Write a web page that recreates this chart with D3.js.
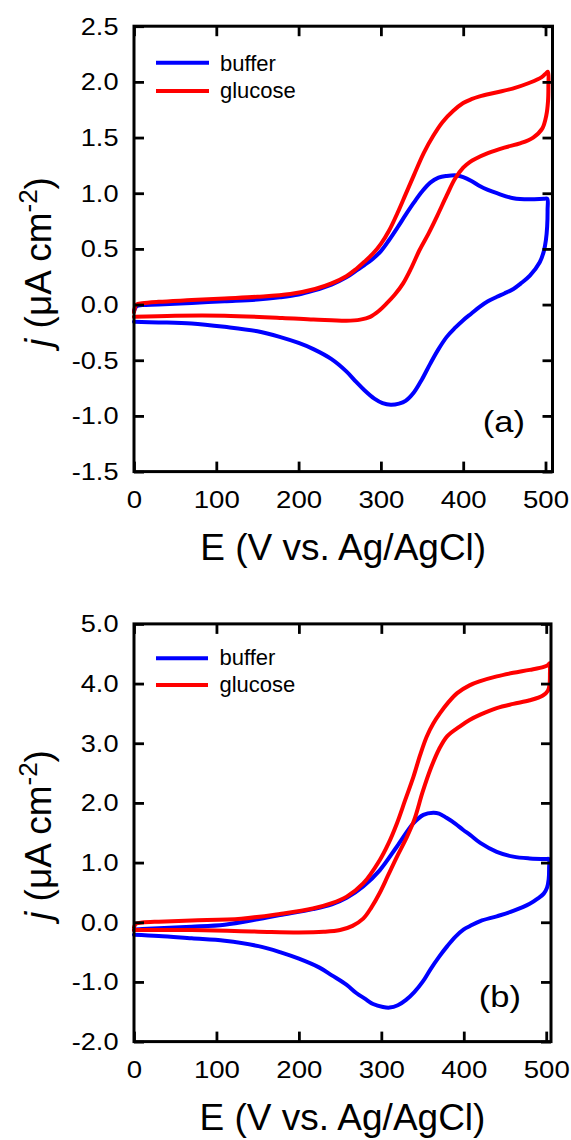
<!DOCTYPE html>
<html><head><meta charset="utf-8">
<script src="https://cdn.jsdelivr.net/npm/d3@7"></script>
<style>html,body{margin:0;padding:0;background:#fff;} svg{display:block;font-family:"Liberation Sans",Arial,sans-serif;}</style>
</head><body><svg id="c" width="571" height="1140"></svg>
<script>
// ---- data ----
const xTicks = [0, 100, 200, 300, 400, 500];
const xTickLabels = ["0", "100", "200", "300", "400", "500"];
const yTicksA = [-1.5, -1.0, -0.5, 0, 0.5, 1.0, 1.5, 2.0, 2.5];
const yTickLabelsA = ["-1.5", "-1.0", "-0.5", "0.0", "0.5", "1.0", "1.5", "2.0", "2.5"];
const yTicksB = [-2, -1, 0, 1, 2, 3, 4, 5];
const yTickLabelsB = ["-2.0", "-1.0", "0.0", "1.0", "2.0", "3.0", "4.0", "5.0"];
const seriesNames = ["buffer", "glucose"];
const panelLabels = ["(a)", "(b)"];
const xTitle = "E (V vs. Ag/AgCl)";

// panel (a) buffer: [E, j]
const bufferA = [[0,-0.06],[1,-0.04],[3,-0.015],[10,-0.005],[30,0.0],[70,0.015],[110,0.03],[150,0.045],[177,0.065],[200,0.09],[218,0.125],[240,0.18],[258,0.245],[270,0.305],[280,0.355],[290,0.41],[300,0.48],[310,0.58],[320,0.69],[330,0.805],[340,0.915],[350,1.015],[360,1.095],[370,1.14],[380,1.155],[392,1.16],[400,1.145],[410,1.11],[420,1.065],[430,1.03],[441,1.0],[461,0.955],[481,0.945],[498,0.95],[502,0.95],[502.5,0.85],[502,0.70],[500.5,0.58],[498,0.48],[493,0.38],[481,0.26],[470,0.19],[461,0.14],[450,0.10],[441,0.07],[430,0.03],[420,-0.02],[410,-0.08],[400,-0.14],[390,-0.21],[380,-0.29],[370,-0.40],[360,-0.53],[350,-0.67],[340,-0.79],[330,-0.865],[322,-0.89],[312,-0.9],[302,-0.885],[292,-0.845],[280,-0.77],[270,-0.695],[258,-0.60],[240,-0.49],[218,-0.40],[200,-0.345],[177,-0.29],[150,-0.24],[110,-0.20],[70,-0.17],[30,-0.16],[0,-0.155]];
// panel (a) glucose
const glucoseA = [[0,-0.07],[1,-0.03],[3,0.0],[10,0.012],[30,0.025],[70,0.04],[110,0.055],[150,0.07],[190,0.095],[220,0.14],[240,0.19],[258,0.255],[270,0.32],[280,0.385],[290,0.455],[300,0.545],[310,0.665],[320,0.82],[330,0.99],[340,1.16],[352,1.36],[364,1.52],[375,1.64],[388,1.74],[400,1.81],[410,1.845],[420,1.87],[440,1.905],[460,1.94],[480,1.99],[495,2.04],[501,2.08],[503,2.09],[503.5,1.95],[503,1.82],[501,1.70],[496,1.58],[485,1.50],[470,1.45],[450,1.41],[430,1.36],[415,1.31],[408,1.28],[400,1.23],[390,1.13],[380,0.98],[368,0.79],[358,0.64],[347,0.49],[337,0.33],[327,0.19],[317,0.09],[307,0.01],[297,-0.06],[287,-0.11],[275,-0.135],[258,-0.145],[240,-0.14],[218,-0.135],[180,-0.12],[110,-0.10],[50,-0.10],[0,-0.11]];
// panel (b) buffer
const bufferB = [[0,-0.13],[2,-0.12],[10,-0.115],[30,-0.10],[70,-0.075],[110,-0.04],[150,0.05],[177,0.12],[217,0.22],[240,0.30],[258,0.41],[278,0.60],[298,0.87],[319,1.27],[339,1.66],[351,1.80],[363,1.835],[370,1.82],[379,1.75],[390,1.65],[399,1.55],[408,1.46],[420,1.33],[440,1.18],[460,1.10],[480,1.07],[500,1.06],[503,1.06],[503.5,0.90],[503,0.72],[501,0.58],[497,0.48],[490,0.40],[480,0.31],[460,0.19],[440,0.10],[420,0.02],[408,-0.06],[400,-0.12],[390,-0.24],[380,-0.40],[370,-0.58],[360,-0.78],[350,-1.0],[340,-1.17],[330,-1.30],[320,-1.39],[310,-1.43],[302,-1.42],[290,-1.37],[280,-1.28],[270,-1.19],[258,-1.05],[240,-0.89],[225,-0.76],[200,-0.61],[177,-0.50],[151,-0.40],[110,-0.31],[70,-0.27],[30,-0.23],[0,-0.21]];
// panel (b) glucose
const glucoseB = [[0,-0.09],[1,-0.05],[3,-0.02],[10,-0.005],[30,0.01],[70,0.03],[130,0.06],[177,0.14],[217,0.23],[240,0.32],[258,0.43],[278,0.65],[298,1.04],[309,1.33],[319,1.66],[329,2.05],[339,2.44],[347,2.80],[355,3.11],[363,3.33],[371,3.50],[381,3.68],[392,3.84],[407,3.97],[420,4.04],[440,4.12],[460,4.18],[480,4.23],[497,4.28],[502,4.31],[504,4.34],[504.5,4.15],[504,3.98],[502,3.88],[496,3.80],[480,3.72],[460,3.66],[440,3.59],[420,3.48],[407,3.39],[395,3.28],[380,3.12],[370,2.90],[360,2.58],[350,2.18],[340,1.72],[330,1.40],[319,1.10],[308,0.78],[298,0.49],[288,0.25],[278,0.06],[265,-0.06],[250,-0.13],[230,-0.16],[200,-0.17],[151,-0.157],[70,-0.13],[0,-0.13]];

// ---- layout ----
const colors = ["#0000ff", "#ff0000"];
const panels = [
  {left:134, right:552.5, top:26.2, bottom:471.6, xMax:508.5, yDom:[-1.5,2.5], yT:yTicksA, yL:yTickLabelsA,
   series:[bufferA, glucoseA], label:panelLabels[0], labX:525, labY:432, ylabY:262,
   legLineY:[62.7,91], legTextY:[70.5,98], legX1:156, legX2:209, legTX:220},
  {left:134, right:551, top:623.9, bottom:1041.6, xMax:505.8, yDom:[-2,5], yT:yTicksB, yL:yTickLabelsB,
   series:[bufferB, glucoseB], label:panelLabels[1], labX:521, labY:1007, ylabY:835,
   legLineY:[658.3,685], legTextY:[665,691.7], legX1:156, legX2:208, legTX:219.5}
];

const svg = d3.select("#c");

panels.forEach(p => {
  const g = svg.append("g");
  const x = d3.scaleLinear().domain([0, p.xMax]).range([p.left, p.right]);
  const y = d3.scaleLinear().domain(p.yDom).range([p.bottom, p.top]);
  const line = d3.line().x(d => x(d[0])).y(d => y(d[1])).curve(d3.curveCatmullRom.alpha(0.5));

  p.series.forEach((s, i) => {
    g.append("path").datum(s).attr("d", line).attr("fill", "none")
      .attr("stroke", colors[i]).attr("stroke-width", 4)
      .attr("stroke-linejoin", "round").attr("stroke-linecap", "round");
  });

  const styleAxis = sel => {
    sel.attr("font-size", null).attr("font-family", null);
    sel.select(".domain").remove();
    sel.selectAll(".tick line").attr("stroke", "#000").attr("stroke-width", 2.8);
  };
  const tick = 10;
  // bottom
  const gb = g.append("g").attr("transform", `translate(0,${p.bottom})`)
    .call(d3.axisBottom(x).tickValues(xTicks).tickFormat(d => xTickLabels[xTicks.indexOf(d)]).tickSizeInner(-tick).tickSizeOuter(0));
  styleAxis(gb);
  gb.selectAll("text").attr("y", null).attr("dy", null).attr("fill", "#000")
    .attr("text-anchor", "middle").attr("transform", "translate(0,36.6) scale(1.2,1)")
    .style("font-size", "23px");
  // top
  const gt = g.append("g").attr("transform", `translate(0,${p.top})`)
    .call(d3.axisTop(x).tickValues(xTicks).tickFormat("").tickSizeInner(-tick).tickSizeOuter(0));
  styleAxis(gt);
  // left
  const gl = g.append("g").attr("transform", `translate(${p.left},0)`)
    .call(d3.axisLeft(y).tickValues(p.yT).tickFormat(d => p.yL[p.yT.indexOf(d)]).tickSizeInner(-tick).tickSizeOuter(0));
  styleAxis(gl);
  gl.selectAll("text").attr("x", null).attr("dy", "0.35em").attr("fill", "#000")
    .attr("text-anchor", "end").attr("transform", "translate(-15.5,0) scale(1.18,1)")
    .style("font-size", "23px");
  // right
  const gr = g.append("g").attr("transform", `translate(${p.right},0)`)
    .call(d3.axisRight(y).tickValues(p.yT).tickFormat("").tickSizeInner(-tick).tickSizeOuter(0));
  styleAxis(gr);

  // frame
  g.append("rect").attr("x", p.left).attr("y", p.top)
    .attr("width", p.right - p.left).attr("height", p.bottom - p.top)
    .attr("fill", "none").attr("stroke", "#000").attr("stroke-width", 3);

  // legend
  seriesNames.forEach((n, i) => {
    g.append("line").attr("x1", p.legX1).attr("x2", p.legX2)
      .attr("y1", p.legLineY[i]).attr("y2", p.legLineY[i])
      .attr("stroke", colors[i]).attr("stroke-width", 4);
    g.append("text").attr("x", p.legTX).attr("y", p.legTextY[i])
      .style("font-size", "22px").attr("fill", "#000").text(n);
  });

  // panel label
  g.append("text").attr("transform", `translate(${p.labX},${p.labY}) scale(1.15,1)`)
    .attr("text-anchor", "end").style("font-size", "30px").attr("fill", "#000").text(p.label);

  // x title
  g.append("text").attr("x", (p.left + p.right) / 2).attr("y", p.bottom + 88.5)
    .attr("text-anchor", "middle").style("font-size", "37px").attr("fill", "#000").text(xTitle);

  // y title
  const yt = g.append("text").attr("transform", `translate(51,${p.ylabY}) rotate(-90)`)
    .attr("text-anchor", "middle").style("font-size", "37px").attr("fill", "#000");
  yt.append("tspan").style("font-style", "italic").text("j");
  yt.append("tspan").text(" (\u03bcA cm");
  yt.append("tspan").attr("dy", -14).style("font-size", "26px").text("-2");
  yt.append("tspan").attr("dy", 14).text(")");
});
</script>
</body></html>
